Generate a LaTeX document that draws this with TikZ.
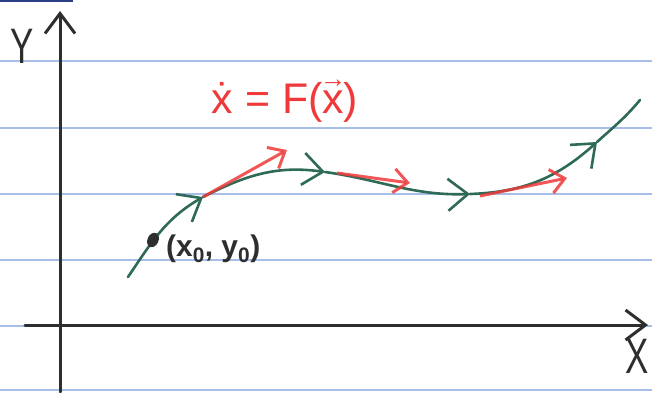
\documentclass[tikz,border=0pt]{standalone}
\usepackage{fontspec}
\setmainfont{Liberation Sans}
\usetikzlibrary{arrows.meta,shapes.geometric}
\usepackage{graphicx}
\usepackage{xcolor}
\definecolor{ruling}{HTML}{A6BEE8}
\definecolor{margin}{HTML}{2B3F86}
\definecolor{ink}{HTML}{2E2E2E}
\definecolor{pine}{HTML}{2F6A57}
\definecolor{marker}{HTML}{F03A3A}
\newcommand{\arrowx}{\ooalign{x\cr\hidewidth\raisebox{0.6em}{\scalebox{0.62}{→}}\hidewidth\cr}}
\newcommand{\narrow}[1]{\scalebox{0.7}[1]{#1}}

\begin{document}
\begin{tikzpicture}[
  x=1bp, y=1bp,
  rule/.style={draw=ruling, line width=1.6bp},
  axis/.style={draw=ink, line width=3bp, line cap=round, -{Straight Barb[length=20bp,width=30bp]}},
  flow/.style={draw=pine, line width=2.6bp, line cap=round},
  chev/.style={-{Straight Barb[length=20bp,width=32bp]}},
  tangent/.style={draw=marker, line width=3bp, opacity=0.85, -{Straight Barb[length=14bp,width=24bp]}},
  axlabel/.style={text=ink, font=\fontsize{50}{50}\selectfont, inner sep=0pt}
]
\useasboundingbox (0,0) rectangle (652,392);
\fill[white] (0,0) rectangle (652,392);

% ruled paper
\foreach \h in {2,66,132,198,264,331}
  \draw[rule] (0,\h) -- (652,\h);
\draw[draw=margin, line width=2bp] (0,391) -- (73,391);

% axes
\coordinate (xs) at (25,67);
\coordinate (xe) at (648,67);
\coordinate (ys) at (60,0);
\coordinate (ye) at (60,381);
\draw[axis] (xs) -- (xe);
\draw[axis] (ys) -- (ye);
\node[axlabel] (ylab) at (22,346) {\narrow{Y}};
\node[axlabel] (xlab) at (637,36) {\narrow{X}};

% trajectory through the initial point
\coordinate (s0) at (128,115);
\coordinate (c1) at (203,195);
\coordinate (c2) at (325,220);
\coordinate (c3) at (470,198);
\coordinate (c4) at (597,250);
\coordinate (c5) at (640,292);
\draw[flow, chev] (s0) to[out=56,in=210] (c1);
\draw[flow, chev] (c1) to[out=27,in=172] (c2);
\draw[flow, chev] (c2) to[out=-8,in=182] (c3);
\draw[flow, chev] (c3) to[out=2,in=222] (c4);
\draw[flow] (c4) to[out=42,in=230] (c5);

% tangent vectors
\coordinate (t2) at (337,219);
\coordinate (t3) at (480,196);
\coordinate (r1) at (287,242);
\coordinate (r2) at (410,209);
\coordinate (r3) at (567,214);
\draw[tangent] (c1) -- (r1);
\draw[tangent] (t2) -- (r2);
\draw[tangent] (t3) -- (r3);

\node[ellipse, fill=ink, minimum width=11bp, minimum height=15bp, inner sep=0pt, rotate=-25] (x0) at (153,152) {};
\node[anchor=west, text=ink, font=\fontsize{30}{30}\selectfont\bfseries, inner sep=0pt] (x0lab) at (166,143) {(x\textsubscript{0}, y\textsubscript{0})};

\node[text=marker, font=\fontsize{43}{43}\selectfont, inner sep=0pt] (law) at (285,290) {\.{x} = F(\arrowx)};
\end{tikzpicture}
\end{document}
